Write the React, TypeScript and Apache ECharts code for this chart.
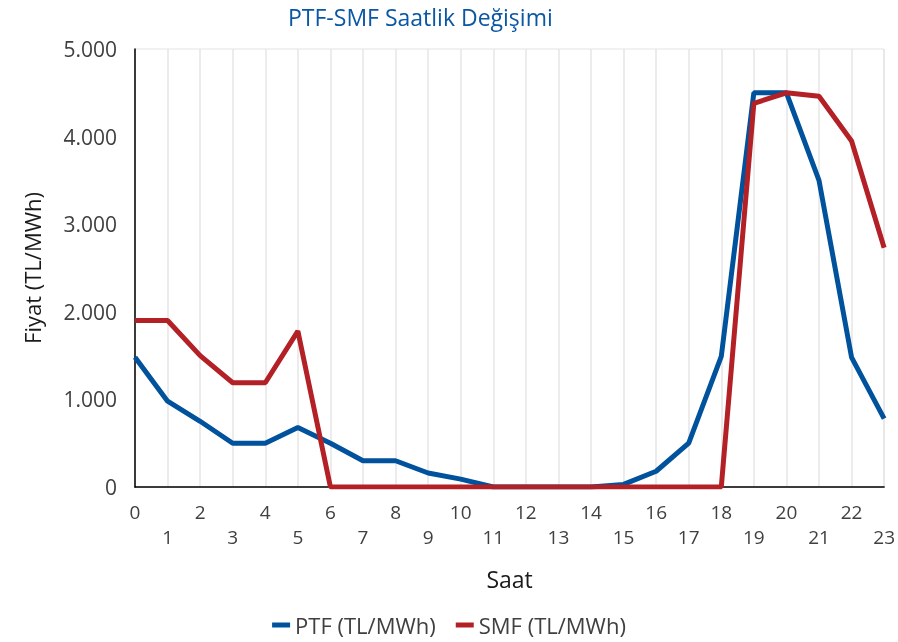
import React, { useEffect, useRef } from "react";
import * as echarts from "echarts";

const hours = ["0","1","2","3","4","5","6","7","8","9","10","11","12","13","14","15","16","17","18","19","20","21","22","23"];
const ptf = [1480, 980, 750, 500, 500, 680, 500, 300, 300, 160, 90, 0, 0, 0, 0, 30, 180, 500, 1490, 4500, 4500, 3500, 1480, 780];
const smf = [1900, 1900, 1500, 1190, 1190, 1780, 0, 0, 0, 0, 0, 0, 0, 0, 0, 0, 0, 0, 0, 4380, 4500, 4460, 3950, 2730];
const yTicks = [0, 1000, 2000, 3000, 4000, 5000];

const FONT = "Open Sans";

const fmt = (v: number) => String(v).replace(/\B(?=(\d{3})+(?!\d))/g, ".");

export default function App() {
  const ref = useRef<HTMLDivElement>(null);
  useEffect(() => {
    if (!ref.current) return;
    const chart = echarts.init(ref.current, null, { renderer: "svg" });
    chart.setOption({
      animation: false,
      textStyle: { fontFamily: FONT },
      title: {
        text: "PTF-SMF Saatlik Değişimi",
        left: 283,
        top: 0,
        padding: [4, 5, 5, 5],
        textStyle: { color: "#0a57a4", fontSize: 23, lineHeight: 26, fontWeight: "normal", fontFamily: FONT },
      },
      legend: {
        bottom: 1,
        left: "center",
        icon: "rect",
        itemWidth: 18,
        itemHeight: 5,
        itemGap: 20,
        textStyle: { fontSize: 22, color: "#404040", fontFamily: FONT },
        data: ["PTF (TL/MWh)", "SMF (TL/MWh)"],
      },
      grid: {
        left: 135,
        right: 9,
        top: 49,
        bottom: 155,
        show: true,
        borderColor: "#e3e3e3",
        borderWidth: 1,
      },
      xAxis: {
        type: "category",
        data: hours,
        boundaryGap: false,
        name: "Saat",
        nameLocation: "middle",
        nameGap: 80,
        nameTextStyle: { fontSize: 23, color: "#1a1a1a", fontFamily: FONT },
        axisLine: { lineStyle: { color: "#000", width: 1.5 } },
        axisTick: { show: false },
        splitLine: { show: true, lineStyle: { color: "#e6e6e6", width: 1.5 } },
        axisLabel: {
          interval: 0,
          margin: 12,
          fontSize: 19,
          lineHeight: 25,
          color: "#404040",
          fontFamily: FONT,
          formatter: (v: string, i: number) => (i % 2 === 1 ? "\n" + v : v),
        },
      },
      yAxis: {
        type: "value",
        min: yTicks[0],
        max: yTicks[yTicks.length - 1],
        interval: 1000,
        name: "Fiyat (TL/MWh)",
        nameLocation: "middle",
        nameGap: 92,
        nameTextStyle: { fontSize: 22, color: "#1a1a1a", fontFamily: FONT },
        axisLine: { show: true, lineStyle: { color: "#000", width: 1.5 } },
        axisTick: { show: false },
        splitLine: { show: false },
        axisLabel: {
          margin: 18,
          fontSize: 21,
          color: "#404040",
          fontFamily: FONT,
          formatter: (v: number) => fmt(v),
        },
      },
      series: [
        {
          name: "PTF (TL/MWh)",
          type: "line",
          data: ptf,
          symbol: "none",
          color: "#00529c",
          lineStyle: { width: 5, color: "#00529c" },
        },
        {
          name: "SMF (TL/MWh)",
          type: "line",
          data: smf,
          symbol: "none",
          color: "#b32025",
          lineStyle: { width: 5, color: "#b32025" },
        },
      ],
    });
    return () => chart.dispose();
  }, []);
  return <div ref={ref} style={{ position: "fixed", left: 0, top: 0, width: 898, height: 642 }} />;
}
